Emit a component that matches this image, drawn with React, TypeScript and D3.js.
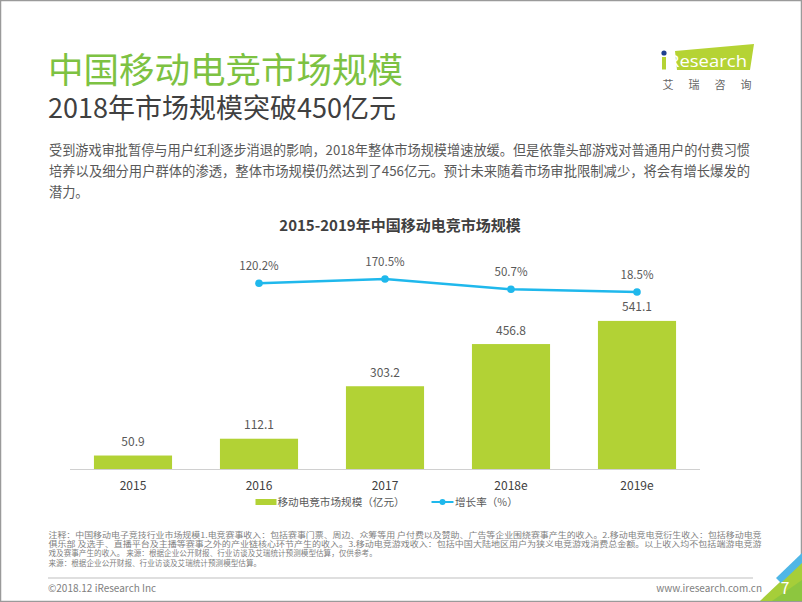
import React from "react";
import * as d3 from "d3";

const years = ["2015", "2016", "2017", "2018e", "2019e"];
const marketSize = [50.9, 112.1, 303.2, 456.8, 541.1];
const growthYears = ["2016", "2017", "2018e", "2019e"];
const growthRate = [120.2, 170.5, 50.7, 18.5];

const pageTitle = "中国移动电竞市场规模";
const pageSubtitle = "2018年市场规模突破450亿元";
const bodyLines = [
  "受到游戏审批暂停与用户红利逐步消退的影响，2018年整体市场规模增速放缓。但是依靠头部游戏对普通用户的付费习惯",
  "培养以及细分用户群体的渗透，整体市场规模仍然达到了456亿元。预计未来随着市场审批限制减少，将会有增长爆发的",
  "潜力。",
];
const chartTitle = "2015-2019年中国移动电竞市场规模";
const legendBar = "移动电竞市场规模（亿元）";
const legendLine = "增长率（%）";
const noteLines = [
  "注释：中国移动电子竞技行业市场规模1.电竞赛事收入：包括赛事门票、周边、众筹等用 户付费以及赞助、广告等企业围绕赛事产生的收入。2.移动电竞电竞衍生收入：包括移动电竞",
  "俱乐部 及选手、直播平台及主播等赛事之外的产业链核心环节产生的收入。3.移动电竞游戏收入：包括中国大陆地区用户为狭义电竞游戏消费总金额。以上收入均不包括端游电竞游",
  "戏及赛事产生的收入。 来源：根据企业公开财报、行业访谈及艾瑞统计预测模型估算，仅供参考。",
  "来源：根据企业公开财报、行业访谈及艾瑞统计预测模型估算。",
];
const logoChars = ["艾", "瑞", "咨", "询"];

const FONT = "'Noto Sans CJK SC', 'Noto Sans', sans-serif";
const BAR = "#b2d235";
const LINE = "#1fb8ec";
const GREEN = "#7dc242";

export default function App() {
  const x = d3
    .scaleBand<string>()
    .domain(years)
    .range([70, 700])
    .paddingInner(0.38)
    .paddingOuter(0.19);
  const y = d3.scaleLinear().domain([0, 600]).range([469.5, 469.5 - 600 * 0.2746]);
  const y2 = d3.scaleLinear().domain([0, 200]).range([293.6, 293.6 - 200 * 0.0855]);
  const cx = (k: string) => (x(k) as number) + x.bandwidth() / 2;
  const line = d3
    .line<number>()
    .x((_, i) => cx(growthYears[i]))
    .y((d) => y2(d));

  return (
    <svg
      width={802}
      height={602}
      style={{ position: "absolute", left: 0, top: 0, background: "#fff" }}
      fontFamily={FONT}
    >
      <rect x={0} y={0} width={802} height={602} fill="#fff" />
      <rect x={0.5} y={0.5} width={801} height={601} fill="none" stroke="#9a9a9a" strokeWidth={1.5} />

      {/* Header */}
      <text x={48} y={83} fontSize={35.5} fill={GREEN}>{pageTitle}</text>
      <text x={48} y={118} fontSize={27} fill="#404040">{pageSubtitle}</text>

      {/* Logo */}
      <polygon points="675,51 754,44 750,70 677,70" fill="#b5d334" />
      <circle cx={664} cy={53} r={2.6} fill="#1f3f8f" />
      <rect x={662} y={57} width={4} height={12.5} fill="#b5d334" />
      <text
        x={668}
        y={67}
        fontSize={17}
        fill="#fff"
        fontFamily="'Open Sans', sans-serif"
        textLength={79}
        lengthAdjust="spacingAndGlyphs"
      >
        Research
      </text>
      {logoChars.map((c, i) => (
        <text key={c} x={668 + i * 26} y={89} fontSize={11} fill="#666" textAnchor="middle">{c}</text>
      ))}

      {/* Body */}
      {bodyLines.map((l, i) => (
        <text
          key={i}
          x={49}
          y={155 + i * 21}
          fontSize={13.2}
          fill="#595959"
          {...(i < 2 ? { textLength: 701, lengthAdjust: "spacingAndGlyphs" } : {})}
        >
          {l}
        </text>
      ))}

      {/* Chart title */}
      <text x={400} y={231} fontSize={15} fontWeight="bold" fill="#404040" textAnchor="middle">
        {chartTitle}
      </text>

      {/* Bars */}
      {marketSize.map((v, i) => (
        <g key={years[i]}>
          <rect x={x(years[i])} y={y(v)} width={x.bandwidth()} height={y(0) - y(v)} fill={BAR} />
          <text x={cx(years[i])} y={y(v) - 9.5} fontSize={12} fill="#595959" textAnchor="middle">
            {v.toFixed(1)}
          </text>
          <text x={cx(years[i])} y={489.5} fontSize={12} fill="#404040" textAnchor="middle">
            {years[i]}
          </text>
        </g>
      ))}
      <line x1={70} x2={700} y1={469.5} y2={469.5} stroke="#d0d0d0" strokeWidth={1} />

      {/* Growth line */}
      <path d={line(growthRate) as string} fill="none" stroke={LINE} strokeWidth={2.5} />
      {growthRate.map((v, i) => (
        <g key={growthYears[i]}>
          <circle cx={cx(growthYears[i])} cy={y2(v)} r={3.8} fill={LINE} />
          <text x={cx(growthYears[i])} y={y2(v) - 13} fontSize={11.5} fill="#595959" textAnchor="middle">
            {v.toFixed(1)}%
          </text>
        </g>
      ))}

      {/* Legend */}
      <rect x={255.5} y={499} width={21} height={6} fill={BAR} />
      <text x={277.5} y={506.3} fontSize={10.6} fill="#595959">{legendBar}</text>
      <line x1={431.5} x2={453.5} y1={502} y2={502} stroke={LINE} strokeWidth={2} />
      <circle cx={442.5} cy={502} r={3} fill={LINE} />
      <text x={455} y={506.3} fontSize={10.6} fill="#595959">{legendLine}</text>

      {/* Notes */}
      <text x={48.5} y={538} fontSize={7.6} fill="#7f7f7f">
        {noteLines.map((l, i) => (
          <tspan
            key={i}
            x={48.5}
            y={538 + i * 9.2}
            {...(i < 2 ? { textLength: 713, lengthAdjust: "spacingAndGlyphs" } : {})}
          >
            {l}
          </tspan>
        ))}
      </text>

      {/* Footer */}
      <line x1={48} x2={753} y1={578} y2={578} stroke="#bfbfbf" strokeWidth={1} />
      <text x={48} y={591.5} fontSize={10} fill="#808080">©2018.12 iResearch Inc</text>
      <text x={762} y={591.5} fontSize={10} fill="#808080" textAnchor="end">www.iresearch.com.cn</text>

      {/* Corner decoration */}
      <polygon points="760,601 802,601 802,562 780,582" fill="#a6ce39" />
      <polygon points="772,601 802,601 802,580" fill="#8dc63f" />
      <polygon points="776,578 802,553 802,563 781,583" fill="#4fb6e6" />
      <text x={785} y={594} fontSize={16} fill="#fff" textAnchor="middle">7</text>
    </svg>
  );
}
